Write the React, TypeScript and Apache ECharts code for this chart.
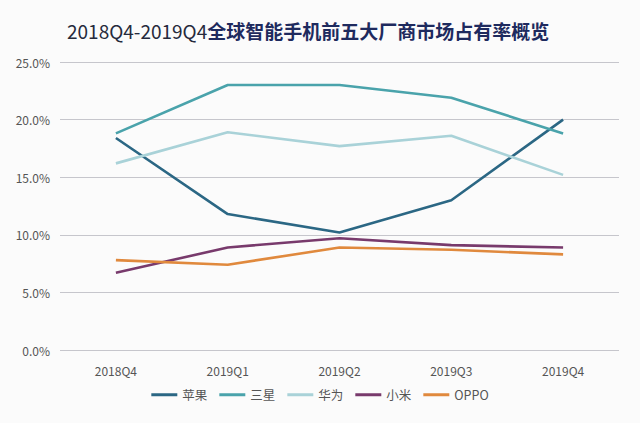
import React, { useEffect, useRef } from "react";
import * as echarts from "echarts";

const categories = ["2018Q4", "2019Q1", "2019Q2", "2019Q3", "2019Q4"];
const seriesNames = ["苹果", "三星", "华为", "小米", "OPPO"];
const apple = [18.4, 11.8, 10.2, 13.0, 20.0];
const samsung = [18.8, 23.0, 23.0, 21.9, 18.8];
const huawei = [16.2, 18.9, 17.7, 18.6, 15.2];
const xiaomi = [6.7, 8.9, 9.7, 9.1, 8.9];
const oppo = [7.8, 7.4, 8.9, 8.7, 8.3];
const yTicks = { min: 0, max: 25, interval: 5 };
const colors = ["#2b6784", "#4aa3ab", "#a9d2d8", "#783a6c", "#e0893d"];

export default function App() {
  const ref = useRef<HTMLDivElement>(null);
  useEffect(() => {
    const chart = echarts.init(ref.current!, null, { renderer: "svg" });
    const data = [apple, samsung, huawei, xiaomi, oppo];
    chart.setOption({
      animation: false,
      backgroundColor: "#fbfbfb",
      title: {
        text: "{a|2018Q4-2019Q4}{b|全球智能手机前五大厂商市场占有率概览}",
        left: 62,
        top: 16,
        textStyle: {
          rich: {
            a: { fontSize: 19, color: "#262a3c", fontFamily: "Noto Sans CJK SC", fontWeight: "normal" },
            b: { fontSize: 19, color: "#1e2a5e", fontFamily: "Noto Sans CJK SC", fontWeight: "bold" },
          },
        },
      },
      grid: { left: 60, right: 21, top: 62, bottom: 73 },
      legend: {
        data: seriesNames,
        bottom: 17,
        left: "center",
        icon: "rect",
        itemWidth: 26,
        itemHeight: 3,
        itemGap: 12,
        textStyle: { color: "#555", fontSize: 12.5, fontFamily: "Noto Sans CJK SC" },
      },
      xAxis: {
        type: "category",
        data: categories,
        boundaryGap: true,
        axisLine: { show: false },
        axisTick: { show: false },
        axisLabel: { color: "#555", fontSize: 12, margin: 14, fontFamily: "Noto Sans CJK SC" },
      },
      yAxis: {
        type: "value",
        min: yTicks.min,
        max: yTicks.max,
        interval: yTicks.interval,
        axisLine: { show: false },
        axisTick: { show: false },
        axisLabel: {
          color: "#555",
          fontSize: 12,
          margin: 10,
          fontFamily: "Noto Sans CJK SC",
          formatter: (v: number) => v.toFixed(1) + "%",
        },
        splitLine: { lineStyle: { color: "#c6c6cc", width: 1 } },
      },
      series: seriesNames.map((name, i) => ({
        name,
        type: "line",
        data: data[i],
        symbol: "none",
        color: colors[i],
        lineStyle: { width: 2.6, color: colors[i] },
      })),
    });
    return () => chart.dispose();
  }, []);
  return (
    <div
      ref={ref}
      style={{ position: "fixed", left: 0, top: 0, width: 640, height: 423 }}
    />
  );
}
